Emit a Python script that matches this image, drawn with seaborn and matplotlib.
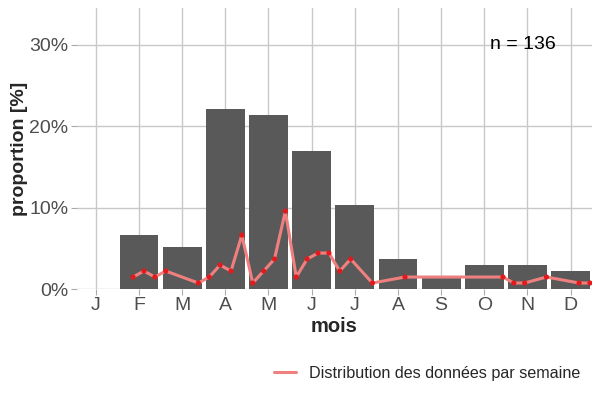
import numpy as np
import pandas as pd
import matplotlib
matplotlib.use("Agg")
import matplotlib.pyplot as plt
import seaborn as sns

# monthly counts (n = 136)
n_total = 136
months = list(range(1, 13))
month_labels = ["J", "F", "M", "A", "M", "J", "J", "A", "S", "O", "N", "D"]
month_counts = [0, 9, 7, 30, 29, 23, 14, 5, 2, 4, 4, 3]

# weekly counts
weeks = [7, 8, 9, 10, 13, 14, 15, 16, 17, 18, 19, 20, 21, 22, 23, 24, 25, 26, 27,
         29, 32, 41, 42, 43, 45, 48, 49]
week_counts = [2, 3, 2, 3, 1, 2, 4, 3, 9, 1, 3, 5, 13, 2, 5, 6, 6, 3, 5,
               1, 2, 2, 1, 1, 2, 1, 1]

sns.set_style("whitegrid")
plt.rcParams['font.family'] = ['Liberation Sans', 'DejaVu Sans']

dfm = pd.DataFrame({"mois": months, "prop": np.array(month_counts) / n_total * 100})
dfw = pd.DataFrame({"pos": np.array(weeks) * 0.252 + 0.1,
                    "prop": np.array(week_counts) / n_total * 100})

fig, ax = plt.subplots(figsize=(6, 4), dpi=100)
fig.subplots_adjust(left=0.128, right=0.987, bottom=0.2775, top=0.98)

sns.barplot(data=dfm, x="mois", y="prop", native_scale=True, width=0.9,
            color="#595959", saturation=1, linewidth=0, ax=ax, zorder=2)
sns.lineplot(data=dfw, x="pos", y="prop", color="#F08080", lw=2.2, ax=ax,
             label="Distribution des données par semaine", zorder=3)
sns.scatterplot(data=dfw, x="pos", y="prop", color="#E31A1C", s=14,
                edgecolor="none", ax=ax, zorder=4, legend=False)

ax.set_xlim(0.56, 12.5)
ax.set_ylim(0, 34.5)
ax.set_xticks(months)
ax.set_xticklabels(month_labels)
ax.set_yticks([0, 10, 20, 30])
ax.set_yticklabels(["0%", "10%", "20%", "30%"])
for s in ax.spines.values():
    s.set_visible(False)
ax.grid(True, color="#C8C8C8", lw=1)
ax.set_axisbelow(True)
ax.tick_params(axis="both", length=4, color="#AAAAAA", labelcolor="#4D4D4D",
               labelsize=14, pad=2)
ax.tick_params(axis="both", which="both", bottom=True, left=True)
ax.set_xlabel("mois", fontsize=14.5, fontweight="bold", labelpad=2)
ax.set_ylabel("proportion [%]", fontsize=14, fontweight="bold", labelpad=1)

ax.text(10.9, 30, "n = 136", fontsize=14, ha="center", va="center", color="black")

ax.legend(loc="center right", bbox_to_anchor=(1.005, -0.3), frameon=False,
          fontsize=11.6, handlelength=1.4)

fig.savefig("out.png", dpi=100)
